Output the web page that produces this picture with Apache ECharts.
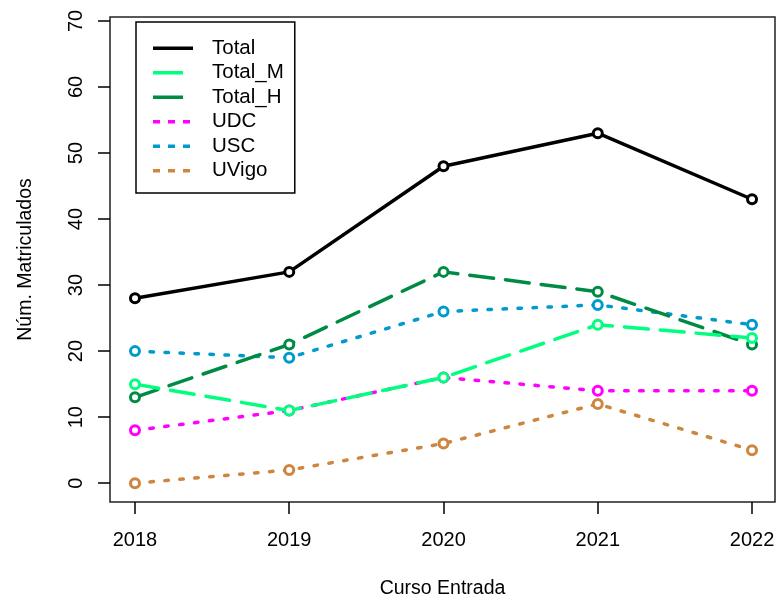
<!DOCTYPE html>
<html>
<head>
<meta charset="utf-8">
<style>html,body{margin:0;padding:0;background:#fff}#c{width:776px;height:599px}</style>
<script src="https://cdn.jsdelivr.net/npm/echarts@6/dist/echarts.min.js"></script>
</head>
<body>
<div id="c"></div>
<script>
const years = [2018, 2019, 2020, 2021, 2022];
const yTicks = [0, 10, 20, 30, 40, 50, 60, 70];
const seriesNames = ['Total', 'Total_M', 'Total_H', 'UDC', 'USC', 'UVigo'];
const total   = [28, 32, 48, 53, 43];
const totalM  = [15, 11, 16, 24, 22];
const totalH  = [13, 21, 32, 29, 21];
const udc     = [8, 11, 16, 14, 14];
const usc     = [20, 19, 26, 27, 24];
const uvigo   = [0, 2, 6, 12, 5];
const values = [total, totalM, totalH, udc, usc, uvigo];

const colors = ['#000000', '#00FF7F', '#008B45', '#FF00FF', '#009ACD', '#CD853F'];
const kinds = ['solid', 'long', 'long', 'dot', 'dot', 'dot'];
const FONT = "'Liberation Sans', Arial, sans-serif";

function dashOf(k) {
  if (k === 'long') return [24, 12];
  if (k === 'dot') return [3.5, 11.5];
  return 'solid';
}
function iconOf(k) {
  const H = 3.5;
  if (k === 'solid') return 'path://M0,0H40V' + H + 'H0Z M54,0L54,' + H;
  if (k === 'long') return 'path://M0,0H30V' + H + 'H0Z M54,0L54,' + H;
  return 'path://M0,0H7V' + H + 'H0Z M15,0H22V' + H + 'H15Z M30,0H37V' + H + 'H30Z M54,0L54,' + H;
}

const series = seriesNames.map((n, i) => ({
  name: n,
  type: 'line',
  data: years.map((y, j) => [y, values[i][j]]),
  symbol: 'circle',
  symbolSize: 9,
  showSymbol: true,
  itemStyle: { color: '#ffffff', borderColor: colors[i], borderWidth: 3 },
  lineStyle: { color: colors[i], width: 3.5, type: dashOf(kinds[i]), cap: 'round' },
  emphasis: { disabled: true },
  animation: false,
  z: 10 - i
}));

const chart = echarts.init(document.getElementById('c'), null, { renderer: 'canvas' });
chart.setOption({
  backgroundColor: '#fff',
  animation: false,
  grid: {
    left: 110, right: 1, top: 17, bottom: 97,
    containLabel: false,
    outerBoundsMode: 'none',
    show: true, borderColor: '#222', borderWidth: 1.5, backgroundColor: 'transparent'
  },
  legend: {
    orient: 'vertical',
    left: 136, top: 22,
    padding: [14, 11, 10, 17],
    borderColor: '#000', borderWidth: 1.5,
    itemGap: 0,
    itemWidth: 54, itemHeight: 3.5,
    symbolKeepAspect: false,
    selectedMode: false,
    textStyle: { fontFamily: FONT, fontSize: 20.5, color: '#000', lineHeight: 24.5 },
    data: seriesNames.map((n, i) => ({
      name: n,
      icon: iconOf(kinds[i]),
      itemStyle: { color: colors[i], borderWidth: 0 }
    }))
  },
  xAxis: {
    type: 'value',
    min: 2017.838, max: 2022.149,
    name: 'Curso Entrada',
    nameLocation: 'middle',
    nameGap: 77,
    nameTextStyle: { fontFamily: FONT, fontSize: 19.5, color: '#000' },
    axisLine: { show: false, onZero: false },
    axisTick: { show: true, length: 12, customValues: years, lineStyle: { color: '#000', width: 1.5 } },
    axisLabel: { customValues: years, fontFamily: FONT, fontSize: 20, color: '#000', margin: 28, formatter: v => String(v) },
    splitLine: { show: false }
  },
  yAxis: {
    type: 'value',
    min: -2.85, max: 70.6,
    name: 'Núm. Matriculados',
    nameLocation: 'middle',
    nameGap: 74,
    nameTextStyle: { fontFamily: FONT, fontSize: 19.5, color: '#000' },
    axisLine: { show: false, onZero: false },
    axisTick: { show: true, length: 12, customValues: yTicks, lineStyle: { color: '#000', width: 1.5 } },
    axisLabel: { customValues: yTicks, rotate: 90, fontFamily: FONT, fontSize: 20, color: '#000', margin: 24 },
    splitLine: { show: false }
  },
  series: series
});
</script>
</body>
</html>
